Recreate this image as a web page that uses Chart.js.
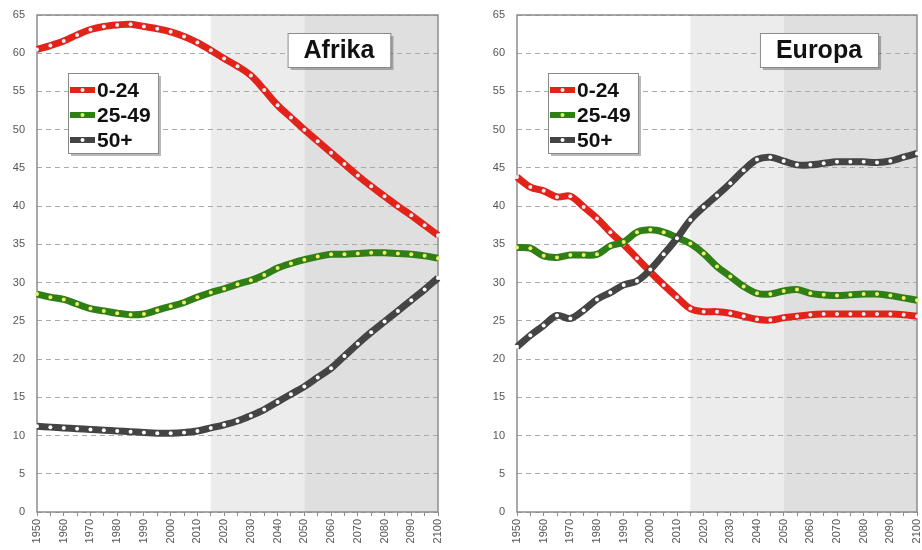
<!DOCTYPE html>
<html lang="de">
<head>
<meta charset="UTF-8">
<title>Afrika / Europa – Altersgruppen</title>
<style>
    body { margin: 0; background: #fff; }
    .wrap { position: relative; width: 922px; height: 550px; }
    .panel { position: absolute; top: 0; height: 550px; }
    #left { left: 0; width: 460px; }
    #right { left: 460px; width: 462px; }
</style>
</head>
<body>
<div class="wrap">
    <div class="panel" id="left"><canvas id="afrikaChart" width="460" height="550"></canvas></div>
    <div class="panel" id="right"><canvas id="europaChart" width="462" height="550"></canvas></div>
</div>

<script src="https://cdn.jsdelivr.net/npm/chart.js"></script>
<script>
// categories (every 5 years)
const years = [1950, 1955, 1960, 1965, 1970, 1975, 1980, 1985, 1990, 1995, 2000,
    2005, 2010, 2015, 2020, 2025, 2030, 2035, 2040, 2045, 2050,
    2055, 2060, 2065, 2070, 2075, 2080, 2085, 2090, 2095, 2100];
const yTicks = [0, 65, 5]; // min, max, step
const seriesNames = ['0-24', '25-49', '50+'];
const shadeFrom = 2015;
const shadeMid = 2050;

// Afrika
const afrika0_24 = [60.5, 61.0, 61.6, 62.4, 63.1, 63.5, 63.7, 63.8, 63.5, 63.2, 62.8,
    62.2, 61.4, 60.4, 59.3, 58.3, 57.1, 55.2, 53.2, 51.6, 50.0,
    48.5, 47.0, 45.5, 44.0, 42.6, 41.3, 40.0, 38.8, 37.5, 36.2];
const afrika25_49 = [28.5, 28.1, 27.8, 27.2, 26.6, 26.3, 26.0, 25.8, 25.9, 26.4, 26.9,
    27.4, 28.1, 28.7, 29.2, 29.8, 30.3, 31.0, 31.9, 32.5, 33.0,
    33.4, 33.7, 33.7, 33.8, 33.9, 33.9, 33.8, 33.7, 33.5, 33.2];
const afrika50 = [11.2, 11.1, 11.0, 10.9, 10.8, 10.7, 10.6, 10.5, 10.4, 10.3, 10.3,
    10.4, 10.6, 11.0, 11.4, 11.9, 12.6, 13.4, 14.4, 15.4, 16.4,
    17.6, 18.8, 20.4, 22.0, 23.5, 24.9, 26.3, 27.7, 29.1, 30.6];

// Europa
const europa0_24 = [43.8, 42.5, 42.0, 41.2, 41.3, 39.9, 38.4, 36.6, 35.0, 33.2, 31.4,
    29.7, 28.1, 26.6, 26.2, 26.2, 26.0, 25.6, 25.2, 25.1, 25.4,
    25.6, 25.8, 25.9, 25.9, 25.9, 25.9, 25.9, 25.9, 25.8, 25.6];
const europa25_49 = [34.6, 34.5, 33.5, 33.3, 33.6, 33.6, 33.7, 34.8, 35.3, 36.6, 36.9,
    36.6, 35.9, 35.1, 33.8, 32.1, 30.8, 29.5, 28.6, 28.5, 28.9,
    29.1, 28.6, 28.4, 28.3, 28.4, 28.5, 28.5, 28.3, 28.0, 27.7];
const europa50 = [21.6, 23.1, 24.4, 25.7, 25.3, 26.4, 27.8, 28.7, 29.7, 30.2, 31.7,
    33.7, 35.8, 38.2, 39.9, 41.4, 43.0, 44.7, 46.1, 46.4, 45.9,
    45.4, 45.4, 45.6, 45.8, 45.8, 45.8, 45.7, 45.9, 46.4, 46.9];

const lineColors = ['#e2231a', '#2f7f16', '#444444'];
const dotColors = ['#e4ecf4', '#eef06a', '#ffffff'];
const FONT = "'Liberation Sans', Arial, sans-serif";

// shading, frame, title box and legend box
const decorPlugin = {
    id: 'decor',
    beforeDraw(chart) {
        const { ctx, chartArea: a, scales: { x } } = chart;
        const x1 = x.getPixelForValue(years.indexOf(shadeFrom));
        const x2 = x.getPixelForValue(years.indexOf(shadeMid));
        ctx.save();
        ctx.fillStyle = '#ececec';
        ctx.fillRect(x1, a.top, x2 - x1, a.bottom - a.top);
        ctx.fillStyle = '#dfdfdf';
        ctx.fillRect(x2, a.top, a.right - x2, a.bottom - a.top);
        ctx.restore();
    },
    beforeDatasetsDraw(chart) {
        const { ctx, chartArea: a } = chart;
        ctx.save();
        ctx.strokeStyle = '#8c8c8c';
        ctx.lineWidth = 1.5;
        ctx.strokeRect(a.left, a.top, a.right - a.left, a.bottom - a.top);
        ctx.restore();
    },
    afterDraw(chart, args, opts) {
        const { ctx, chartArea: a } = chart;
        ctx.save();

        // title box
        ctx.font = 'bold 25px ' + FONT;
        const tw = ctx.measureText(opts.title).width;
        const bw = tw + 32, bh = 34;
        const bx = a.left + 302 - bw / 2, by = 33;
        ctx.fillStyle = 'rgba(0,0,0,0.28)';
        ctx.fillRect(bx + 3, by + 3, bw, bh);
        ctx.fillStyle = '#fff';
        ctx.fillRect(bx, by, bw, bh);
        ctx.strokeStyle = '#8a8a8a';
        ctx.lineWidth = 1;
        ctx.strokeRect(bx + 0.5, by + 0.5, bw, bh);
        ctx.fillStyle = '#111';
        ctx.textAlign = 'center';
        ctx.textBaseline = 'middle';
        ctx.fillText(opts.title, bx + bw / 2, by + bh / 2 + 1);

        // legend box
        const lx = a.left + 31, ly = 73, lw = 90, lh = 80;
        ctx.fillStyle = 'rgba(0,0,0,0.28)';
        ctx.fillRect(lx + 3, ly + 3, lw, lh);
        ctx.fillStyle = '#fff';
        ctx.fillRect(lx, ly, lw, lh);
        ctx.strokeStyle = '#8a8a8a';
        ctx.strokeRect(lx + 0.5, ly + 0.5, lw, lh);
        ctx.font = 'bold 21px ' + FONT;
        ctx.textAlign = 'left';
        chart.data.datasets.forEach((ds, i) => {
            const cy = ly + 17 + i * 25;
            ctx.strokeStyle = ds.borderColor;
            ctx.lineWidth = 6;
            ctx.beginPath();
            ctx.moveTo(lx + 2, cy);
            ctx.lineTo(lx + 27, cy);
            ctx.stroke();
            ctx.fillStyle = ds.pointBackgroundColor;
            ctx.beginPath();
            ctx.arc(lx + 14.5, cy, 2, 0, Math.PI * 2);
            ctx.fill();
            ctx.fillStyle = '#111';
            ctx.fillText(ds.label, lx + 29, cy + 1);
        });
        ctx.restore();
    }
};

function makeChart(canvasId, title, seriesData, yWidth, padRight) {
    const datasets = seriesData.map((d, i) => ({
        label: seriesNames[i],
        data: d,
        borderColor: lineColors[i],
        backgroundColor: lineColors[i],
        borderWidth: 7,
        tension: 0.35,
        pointRadius: 2,
        pointBorderWidth: 0,
        pointBackgroundColor: dotColors[i],
        clip: false,
        order: 3 - i // 50+ on top
    }));

    return new Chart(document.getElementById(canvasId), {
        type: 'line',
        data: { labels: years, datasets: datasets },
        options: {
            responsive: false,
            animation: false,
            devicePixelRatio: 1,
            layout: { padding: { top: 15, right: padRight, bottom: 0, left: 0 } },
            plugins: {
                legend: { display: false },
                tooltip: { enabled: false },
                decor: { title: title }
            },
            scales: {
                x: {
                    offset: false,
                    grid: { drawOnChartArea: false, drawTicks: true, tickLength: 4, color: '#8c8c8c' },
                    border: { display: false },
                    ticks: {
                        autoSkip: false,
                        minRotation: 90,
                        maxRotation: 90,
                        padding: 3,
                        color: '#555',
                        font: { family: FONT, size: 11 },
                        callback: (v, i) => (years[i] % 10 === 0 ? String(years[i]) : '')
                    },
                    afterFit(scale) {
                        scale.height = 38;
                        scale.paddingLeft = 0;
                        scale.paddingRight = 0;
                    }
                },
                y: {
                    min: yTicks[0],
                    max: yTicks[1],
                    grid: { drawTicks: false, color: '#aaaaaa', lineWidth: 1 },
                    border: { display: false, dash: [5, 4] },
                    ticks: {
                        stepSize: yTicks[2],
                        padding: 12,
                        color: '#555',
                        font: { family: FONT, size: 11 }
                    },
                    afterFit(scale) {
                        scale.width = yWidth;
                        scale.paddingTop = 0;
                        scale.paddingBottom = 0;
                    }
                }
            }
        },
        plugins: [decorPlugin]
    });
}

makeChart('afrikaChart', 'Afrika', [afrika0_24, afrika25_49, afrika50], 37, 22);
makeChart('europaChart', 'Europa', [europa0_24, europa25_49, europa50], 57, 5);
</script>
</body>
</html>
